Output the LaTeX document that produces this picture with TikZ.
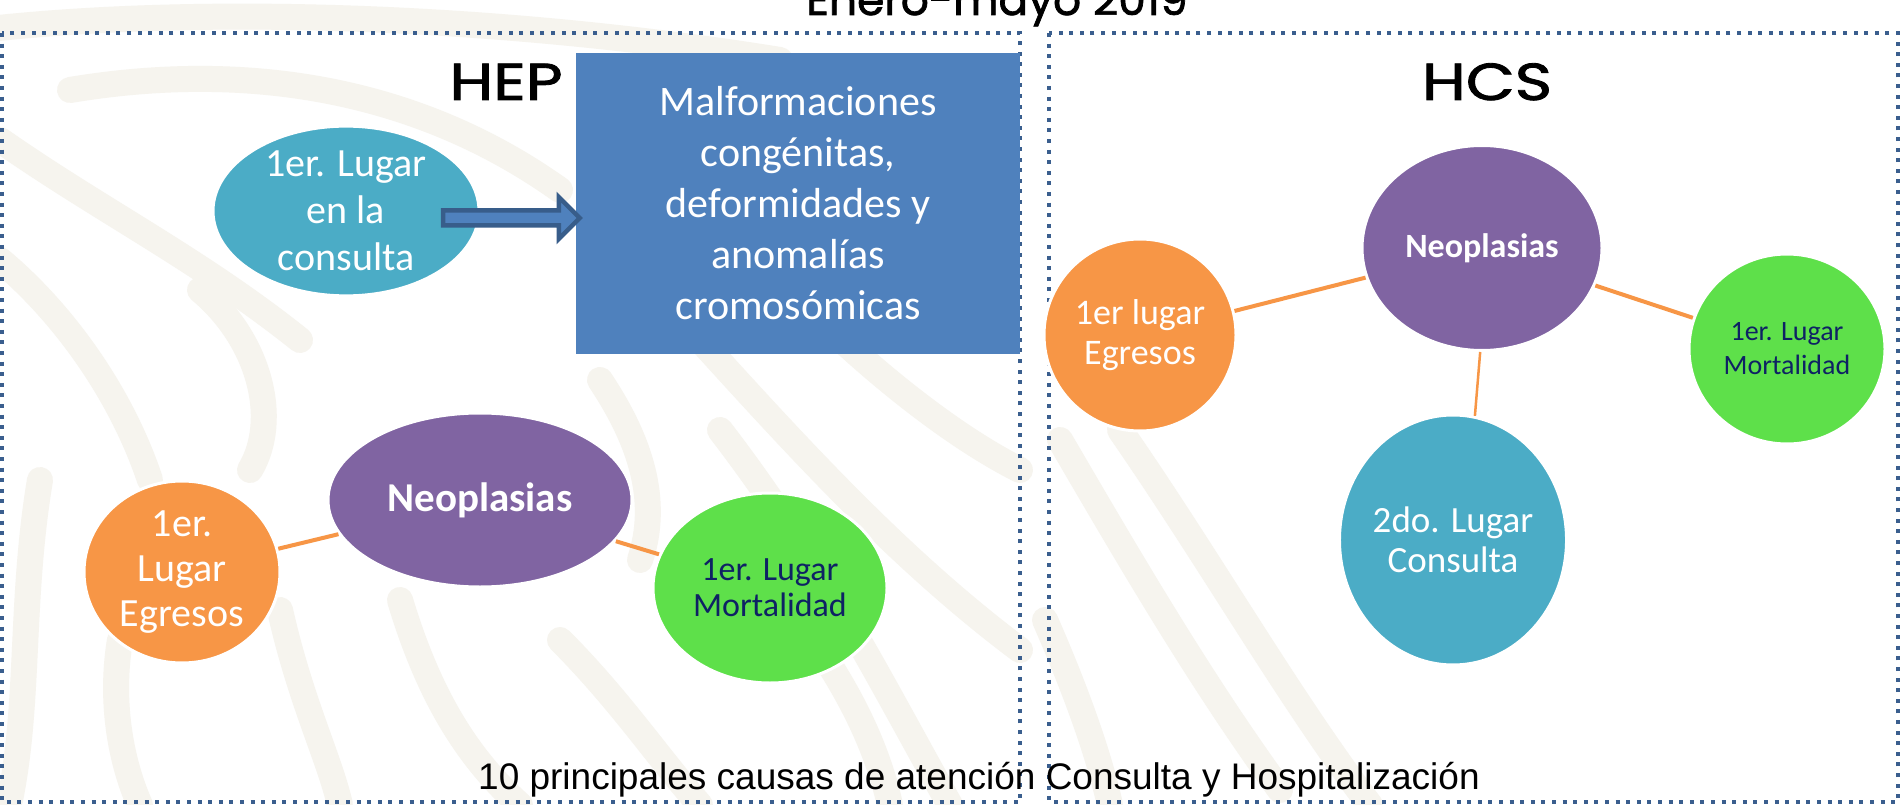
\documentclass[tikz,border=0pt]{standalone}
\usepackage{fontspec}
\setmainfont{Carlito}
\newfontfamily\popfont[FakeBold=1.6]{Poppins}
\newfontfamily\arialfont{Liberation Sans}
\usetikzlibrary{shapes.geometric,calc}
\definecolor{cteal}{HTML}{4BACC6}
\definecolor{cblue}{HTML}{4F81BD}
\definecolor{cbluedark}{HTML}{385D8A}
\definecolor{cpurple}{HTML}{8064A2}
\definecolor{corange}{HTML}{F79646}
\definecolor{cgreen}{RGB}{94,224,74}
\definecolor{cnavy}{RGB}{14,34,100}
\definecolor{cborder}{RGB}{58,94,142}
\definecolor{cwm}{RGB}{246,244,238}
\tikzset{
  blob/.style={ellipse, inner sep=0pt, draw=white, line width=3pt, text=white, align=center},
  panel/.style={draw=cborder, line width=4pt, dash pattern=on 4pt off 6.6pt},
  link/.style={draw=corange, line width=4pt},
  wm/.style={draw=cwm, line width=26pt, line cap=round},
  heading/.style={font=\popfont\fontsize{52}{58}\selectfont, anchor=base, inner sep=0pt},
}
\begin{document}
\begin{tikzpicture}[x=1pt,y=-1pt]
\useasboundingbox (0,0) rectangle (1901,805);
\fill[white] (0,0) rectangle (1901,805);
% faint watermark
\draw[wm] (-20,30) .. controls (200,5) and (500,15) .. (780,60);
\draw[wm] (70,90) .. controls (250,60) and (420,90) .. (560,190);
\draw[wm] (0,140) .. controls (100,210) and (200,260) .. (300,340);
\draw[wm] (0,260) .. controls (60,310) and (120,390) .. (150,480);
\draw[wm] (200,290) .. controls (260,340) and (280,420) .. (250,470);
\draw[wm] (40,480) .. controls (20,600) and (30,700) .. (10,800);
\draw[wm] (120,640) .. controls (110,700) and (120,760) .. (140,805);
\draw[wm] (280,610) .. controls (300,700) and (330,760) .. (340,805);
\draw[wm] (400,600) .. controls (430,700) and (470,760) .. (520,805);
\draw[wm] (560,640) .. controls (620,700) and (660,760) .. (700,805);
\draw[wm] (600,380) .. controls (640,440) and (660,500) .. (640,560);
\draw[wm] (700,340) .. controls (800,450) and (900,560) .. (1020,650);
\draw[wm] (720,430) .. controls (820,560) and (880,680) .. (950,805);
\draw[wm] (800,300) .. controls (880,380) and (960,440) .. (1020,470);
\draw[wm] (820,650) .. controls (860,710) and (880,760) .. (890,805);
\draw[wm] (1060,440) .. controls (1130,560) and (1200,680) .. (1280,790);
\draw[wm] (1120,430) .. controls (1210,560) and (1290,700) .. (1370,805);
\draw[wm] (1045,620) .. controls (1080,700) and (1100,760) .. (1110,805);
% title and panel headings
\node[font=\popfont\fontsize{44}{50}\selectfont, anchor=base] (title) at (997,15) {Enero-mayo 2019};
\draw[panel] (2,33) rectangle (1020,802);
\draw[panel] (1049,33) rectangle (1898,802);
\node[heading] (hep) at (506,100) {\scalebox{1.22}[1]{HEP}};
\node[heading] (hcs) at (1487,100) {\scalebox{1.22}[1]{HCS}};
% HEP panel
\node[fill=cblue, minimum width=444pt, minimum height=301pt, inner sep=0pt, text=white, align=center,
      font=\fontsize{42}{51}\selectfont] (mal) at (798,203.5)
  {Malformaciones\\congénitas,\\deformidades y\\anomalías\\cromosómicas};
\node[blob, fill=cteal, minimum width=266pt, minimum height=166pt, font=\fontsize{40}{47}\selectfont]
  (t1) at (346,211) {1er. Lugar\\en la\\consulta};
\node[blob, fill=cpurple, minimum width=304pt, minimum height=174pt, font=\bfseries\fontsize{41}{48}\selectfont]
  (n1) at (480,500) {Neoplasias};
\node[blob, fill=corange, minimum width=196pt, minimum height=182pt, font=\fontsize{40}{45}\selectfont]
  (o1) at (182,572) {1er.\\Lugar\\Egresos};
\node[blob, fill=cgreen, text=cnavy, minimum width=234pt, minimum height=190pt, font=\fontsize{34}{36}\selectfont]
  (g1) at (770,588) {1er. Lugar\\Mortalidad};
\path[link] (o1) -- (n1);
\path[link] (n1) -- (g1);
% arrow from t1 to mal
\coordinate (aS) at ($(t1.center)+(97,7)$);
\coordinate (aE) at ($(mal.west)+(4,14.5)$);
\filldraw[fill=cblue, draw=cbluedark, line width=4.5pt, line join=miter]
  ($(aS)+(0,-7.5)$) -- ($(aE)+(-21,-7.5)$) -- ($(aE)+(-21,-21)$) -- (aE)
  -- ($(aE)+(-21,21)$) -- ($(aE)+(-21,7.5)$) -- ($(aS)+(0,7.5)$) -- cycle;
% HCS panel
\node[blob, fill=cpurple, minimum width=240pt, minimum height=205pt, font=\bfseries\fontsize{34}{40}\selectfont]
  (n2) at (1482,248) {Neoplasias};
\node[blob, fill=corange, minimum width=192pt, minimum height=192pt, font=\fontsize{36}{40}\selectfont]
  (o2) at (1140,335) {1er lugar\\Egresos};
\node[blob, fill=cgreen, text=cnavy, minimum width=196pt, minimum height=190pt, font=\fontsize{28}{34}\selectfont]
  (g2) at (1787,349) {1er. Lugar\\Mortalidad};
\node[blob, fill=cteal, minimum width=202pt, minimum height=250pt, font=\fontsize{37}{40}\selectfont]
  (t2) at (1453,540) {2do. Lugar\\Consulta};
\path[link] (o2) -- (n2);
\path[link] (n2) -- (g2);
\path[link, line width=2.5pt] (n2.-91.5) -- (t2.80);
% footer
\node[font=\arialfont\fontsize{37}{42}\selectfont, anchor=base] (foot) at (979,789)
  {10 principales causas de atención Consulta y Hospitalización};
\end{tikzpicture}
\end{document}
